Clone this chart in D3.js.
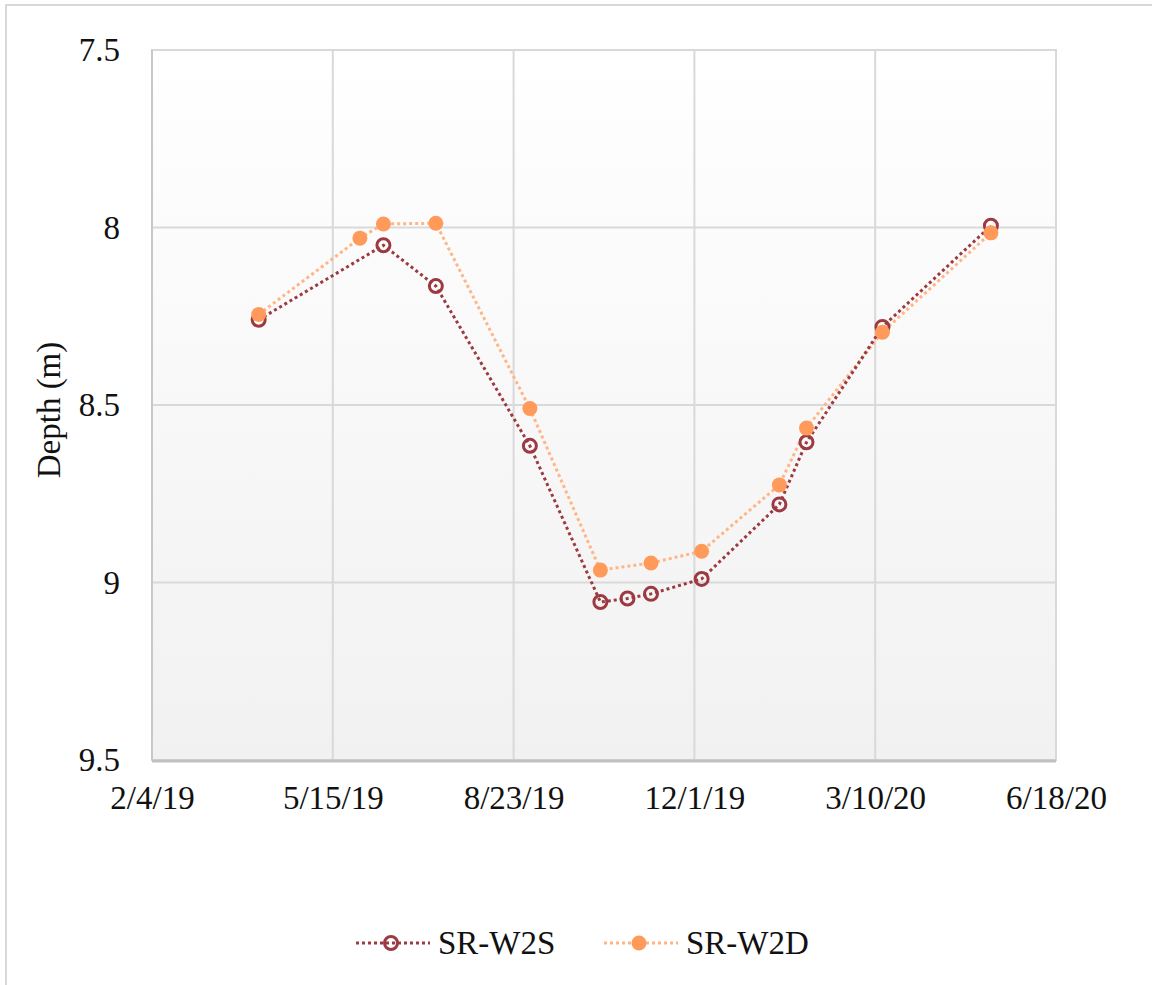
<!DOCTYPE html>
<html>
<head>
<meta charset="utf-8">
<script src="https://cdn.jsdelivr.net/npm/d3@7/dist/d3.min.js"></script>
<style>
  html, body { margin: 0; padding: 0; background: #fff; }
  svg { display: block; font-family: "Liberation Serif", "Times New Roman", serif; }
</style>
</head>
<body>
<svg id="chart" width="1152" height="985"></svg>
<script>
// Sampling dates and depths for each well
const datesW2S = ["2019-04-04","2019-06-12","2019-07-11","2019-09-01","2019-10-10","2019-10-25","2019-11-07","2019-12-05","2020-01-17","2020-02-01","2020-03-14","2020-05-13"];
const depthW2S = [8.26, 8.05, 8.165, 8.615, 9.055, 9.045, 9.032, 8.99, 8.78, 8.605, 8.28, 7.995];

const datesW2D = ["2019-04-04","2019-05-30","2019-06-12","2019-07-11","2019-09-01","2019-10-10","2019-11-07","2019-12-05","2020-01-17","2020-02-01","2020-03-14","2020-05-13"];
const depthW2D = [8.245, 8.03, 7.99, 7.988, 8.51, 8.965, 8.945, 8.912, 8.725, 8.565, 8.295, 8.015];

const xTickLabels = ["2019-02-04","2019-05-15","2019-08-23","2019-12-01","2020-03-10","2020-06-18"];
const yTickValues = [7.5, 8, 8.5, 9, 9.5];

const seriesNames = ["SR-W2S", "SR-W2D"];

const parse = d3.timeParse("%Y-%m-%d");
const svg = d3.select("#chart");

const plot = { left: 152, right: 1056, top: 50, bottom: 760 };

const x = d3.scaleTime()
  .domain([parse(xTickLabels[0]), parse(xTickLabels[xTickLabels.length - 1])])
  .range([plot.left, plot.right]);
const y = d3.scaleLinear()
  .domain([7.5, 9.5])
  .range([plot.top, plot.bottom]);

// Outer chart frame
svg.append("rect")
  .attr("x", 6).attr("y", 5)
  .attr("width", 1160).attr("height", 1000)
  .attr("fill", "#fff")
  .attr("stroke", "#d9d9d9").attr("stroke-width", 2);

// Plot area gradient
const defs = svg.append("defs");
const grad = defs.append("linearGradient")
  .attr("id", "plotBg").attr("x1", 0).attr("y1", 0).attr("x2", 0).attr("y2", 1);
grad.append("stop").attr("offset", "0%").attr("stop-color", "#ffffff");
grad.append("stop").attr("offset", "100%").attr("stop-color", "#f1f1f1");

svg.append("rect")
  .attr("x", plot.left).attr("y", plot.top)
  .attr("width", plot.right - plot.left).attr("height", plot.bottom - plot.top)
  .attr("fill", "url(#plotBg)")
  .attr("stroke", "#d4d4d4").attr("stroke-width", 2);

// Gridlines
const grid = svg.append("g");
grid.selectAll("line.h")
  .data(yTickValues)
  .join("line")
  .attr("x1", plot.left).attr("x2", plot.right)
  .attr("y1", d => y(d)).attr("y2", d => y(d))
  .attr("stroke", "#d9d9d9").attr("stroke-width", 2);
grid.selectAll("line.v")
  .data(xTickLabels.map(parse))
  .join("line")
  .attr("x1", d => x(d)).attr("x2", d => x(d))
  .attr("y1", plot.top).attr("y2", plot.bottom)
  .attr("stroke", "#d9d9d9").attr("stroke-width", 2);

// Axis frame lines
svg.append("line")
  .attr("x1", plot.left).attr("x2", plot.left)
  .attr("y1", plot.top).attr("y2", plot.bottom)
  .attr("stroke", "#c8c8c8").attr("stroke-width", 2);
svg.append("line")
  .attr("x1", plot.left).attr("x2", plot.right)
  .attr("y1", plot.bottom + 1).attr("y2", plot.bottom + 1)
  .attr("stroke", "#c0c0c0").attr("stroke-width", 3);

// Axes (labels only, via d3 axis generators)
const fmtDate = d3.timeFormat("%-m/%-d/%y");
const xAxis = svg.append("g")
  .attr("transform", `translate(0,${plot.bottom})`)
  .call(d3.axisBottom(x).tickValues(xTickLabels.map(parse)).tickFormat(fmtDate).tickSize(0).tickPadding(26));
xAxis.select(".domain").remove();
xAxis.selectAll("text")
  .attr("font-family", "Liberation Serif, serif")
  .attr("font-size", 33)
  .attr("fill", "#111");

const yAxis = svg.append("g")
  .attr("transform", `translate(${plot.left},0)`)
  .call(d3.axisLeft(y).tickValues(yTickValues).tickFormat(d3.format("")).tickSize(0).tickPadding(32));
yAxis.select(".domain").remove();
yAxis.selectAll("text")
  .attr("font-family", "Liberation Serif, serif")
  .attr("font-size", 33)
  .attr("fill", "#111");

// Y axis title
svg.append("text")
  .attr("transform", "translate(60,410) rotate(-90)")
  .attr("text-anchor", "middle")
  .attr("font-size", 33)
  .attr("fill", "#111")
  .text("Depth (m)");

const colW2S = "#9c3a41";
const colW2D = "#ff9a5a";
const lineW2D = "#ffb585";

const dataW2S = datesW2S.map((d, i) => ({ date: parse(d), v: depthW2S[i] }));
const dataW2D = datesW2D.map((d, i) => ({ date: parse(d), v: depthW2D[i] }));

const line = d3.line().x(d => x(d.date)).y(d => y(d.v));

// SR-W2D line (drawn first)
svg.append("path")
  .datum(dataW2D)
  .attr("d", line)
  .attr("fill", "none")
  .attr("stroke", lineW2D).attr("stroke-width", 3)
  .attr("stroke-dasharray", "3,3");
// SR-W2S line
svg.append("path")
  .datum(dataW2S)
  .attr("d", line)
  .attr("fill", "none")
  .attr("stroke", colW2S).attr("stroke-width", 3)
  .attr("stroke-dasharray", "3,3");

svg.append("g").selectAll("circle")
  .data(dataW2S)
  .join("circle")
  .attr("cx", d => x(d.date)).attr("cy", d => y(d.v))
  .attr("r", 6.5)
  .attr("fill", "none")
  .attr("stroke", colW2S).attr("stroke-width", 3);

svg.append("g").selectAll("circle")
  .data(dataW2D)
  .join("circle")
  .attr("cx", d => x(d.date)).attr("cy", d => y(d.v))
  .attr("r", 7.5)
  .attr("fill", colW2D);

// Legend
const legend = svg.append("g");
const legendItems = [
  { name: seriesNames[0], x0: 356, lineCol: colW2S, filled: false, col: colW2S },
  { name: seriesNames[1], x0: 604, lineCol: lineW2D, filled: true, col: colW2D }
];
const ly = 943;
legendItems.forEach(it => {
  legend.append("line")
    .attr("x1", it.x0).attr("x2", it.x0 + 74)
    .attr("y1", ly).attr("y2", ly)
    .attr("stroke", it.lineCol).attr("stroke-width", 3)
    .attr("stroke-dasharray", "3,3");
  legend.append("circle")
    .attr("cx", it.x0 + 35).attr("cy", ly)
    .attr("r", it.filled ? 7.5 : 6.5)
    .attr("fill", it.filled ? it.col : "none")
    .attr("stroke", it.filled ? "none" : it.col)
    .attr("stroke-width", 3);
  legend.append("text")
    .attr("x", it.x0 + 82).attr("y", ly + 11)
    .attr("font-size", 33)
    .attr("fill", "#111")
    .text(it.name);
});
</script>
</body>
</html>
